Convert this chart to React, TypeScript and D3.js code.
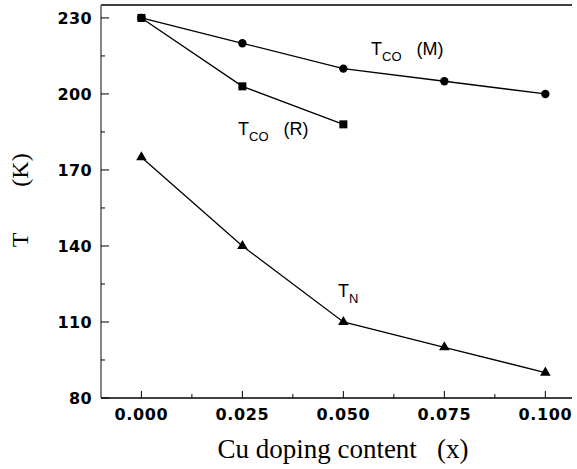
import React, { useRef, useEffect } from "react";
import * as d3 from "d3";

const dopingX = [0, 0.025, 0.05, 0.075, 0.1];
const tcoM = [230, 220, 210, 205, 200];
const tcoR = [230, 203, 188];
const tN = [175, 140, 110, 100, 90];

const xTicks = [0, 0.025, 0.05, 0.075, 0.1];
const yTicks = [80, 110, 140, 170, 200, 230];

const SERIF = "'Liberation Serif', 'Times New Roman', Times, serif";
const SANS = "'Liberation Sans', Arial, Helvetica, sans-serif";
const BOLD = "'DejaVu Sans', Verdana, sans-serif";

const App = () => {
  const ref = useRef<SVGSVGElement>(null);

  useEffect(() => {
    const left = 101;
    const right = 572;
    const top = 5;
    const bottom = 398;

    const svg = d3.select(ref.current);
    svg.selectAll("*").remove();

    const x = d3.scaleLinear().domain([-0.01, 0.1066]).range([left, right]);
    const y = d3.scaleLinear().domain([80, 235.1]).range([bottom, top]);

    const g = svg.append("g");

    // frame: left, top, bottom
    g.append("line")
      .attr("x1", left).attr("x2", right).attr("y1", top).attr("y2", top)
      .attr("stroke", "#000").attr("stroke-width", 1.3);
    g.append("line")
      .attr("x1", left).attr("x2", right).attr("y1", bottom).attr("y2", bottom)
      .attr("stroke", "#000").attr("stroke-width", 1.3);
    g.append("line")
      .attr("x1", left).attr("x2", left).attr("y1", top).attr("y2", bottom)
      .attr("stroke", "#666").attr("stroke-width", 1.6);

    // x ticks (inside)
    const xMinor = xTicks.slice(0, -1).map((d) => d + 0.0125);
    g.selectAll(".xt")
      .data(xTicks)
      .enter()
      .append("line")
      .attr("x1", (d) => x(d)).attr("x2", (d) => x(d))
      .attr("y1", bottom).attr("y2", bottom - 7)
      .attr("stroke", "#000").attr("stroke-width", 1);
    g.selectAll(".xm")
      .data(xMinor)
      .enter()
      .append("line")
      .attr("x1", (d) => x(d)).attr("x2", (d) => x(d))
      .attr("y1", bottom).attr("y2", bottom - 4)
      .attr("stroke", "#000").attr("stroke-width", 1);
    g.selectAll(".xl")
      .data(xTicks)
      .enter()
      .append("text")
      .attr("x", (d) => x(d))
      .attr("y", 420)
      .attr("text-anchor", "middle")
      .attr("font-family", BOLD)
      .attr("font-weight", "bold")
      .attr("font-size", 16)
      .attr("letter-spacing", 0.6)
      .text((d) => d3.format(".3f")(d));

    // y ticks (inside)
    const yMinor = yTicks.slice(0, -1).map((d) => d + 15);
    g.selectAll(".yt")
      .data(yTicks)
      .enter()
      .append("line")
      .attr("x1", left).attr("x2", left + 8)
      .attr("y1", (d) => y(d)).attr("y2", (d) => y(d))
      .attr("stroke", "#000").attr("stroke-width", 1);
    g.selectAll(".ym")
      .data(yMinor)
      .enter()
      .append("line")
      .attr("x1", left).attr("x2", left + 4)
      .attr("y1", (d) => y(d)).attr("y2", (d) => y(d))
      .attr("stroke", "#000").attr("stroke-width", 1);
    g.selectAll(".yl")
      .data(yTicks)
      .enter()
      .append("text")
      .attr("x", 92)
      .attr("y", (d) => y(d) + 6)
      .attr("text-anchor", "end")
      .attr("font-family", BOLD)
      .attr("font-weight", "bold")
      .attr("font-size", 16)
      .attr("letter-spacing", 0.4)
      .text((d) => d);

    // axis titles
    g.append("text")
      .attr("x", 343)
      .attr("y", 458)
      .attr("text-anchor", "middle")
      .attr("font-family", SERIF)
      .attr("font-size", 27)
      .style("white-space", "pre")
      .text("Cu doping content   (x)");
    g.append("text")
      .attr("transform", "translate(28,240) rotate(-90)")
      .attr("text-anchor", "middle")
      .attr("font-family", SERIF)
      .attr("font-size", 24)
      .text("T");
    g.append("text")
      .attr("transform", "translate(28,170) rotate(-90)")
      .attr("text-anchor", "middle")
      .attr("font-family", SERIF)
      .attr("font-size", 24)
      .text("(K)");

    const line = d3
      .line<number>()
      .x((d, i) => x(dopingX[i]))
      .y((d) => y(d));

    [tcoM, tcoR, tN].forEach((s) => {
      g.append("path")
        .datum(s)
        .attr("d", line)
        .attr("fill", "none")
        .attr("stroke", "#000")
        .attr("stroke-width", 1.3);
    });

    g.selectAll(".cM")
      .data(tcoM)
      .enter()
      .append("circle")
      .attr("cx", (d, i) => x(dopingX[i]))
      .attr("cy", (d) => y(d))
      .attr("r", 4.2)
      .attr("fill", "#000");

    g.selectAll(".sR")
      .data(tcoR)
      .enter()
      .append("rect")
      .attr("x", (d, i) => x(dopingX[i]) - 4)
      .attr("y", (d) => y(d) - 4)
      .attr("width", 8)
      .attr("height", 8)
      .attr("fill", "#000");

    const tri = d3.symbol().type(d3.symbolTriangle).size(48);
    g.selectAll(".tN")
      .data(tN)
      .enter()
      .append("path")
      .attr("d", tri)
      .attr("transform", (d, i) => `translate(${x(dopingX[i])},${y(d)})`)
      .attr("fill", "#000");

    // annotations
    const label = (px: number, py: number, sub: string, tail: string) => {
      const t = g
        .append("text")
        .attr("x", px)
        .attr("y", py)
        .attr("font-family", SANS)
        .attr("font-size", 18)
        .style("white-space", "pre");
      t.append("tspan").text("T");
      t.append("tspan").attr("dy", 6).attr("font-size", 13).text(sub);
      if (tail) t.append("tspan").attr("dy", -6).text(tail);
    };
    label(371, 55, "CO", "   (M)");
    label(238, 135, "CO", "   (R)");
    label(338, 297, "N", "");
  }, []);

  return (
    <svg
      ref={ref}
      width={577}
      height={469}
      style={{ position: "absolute", left: 0, top: 0, background: "#fff" }}
    />
  );
};

export default App;
